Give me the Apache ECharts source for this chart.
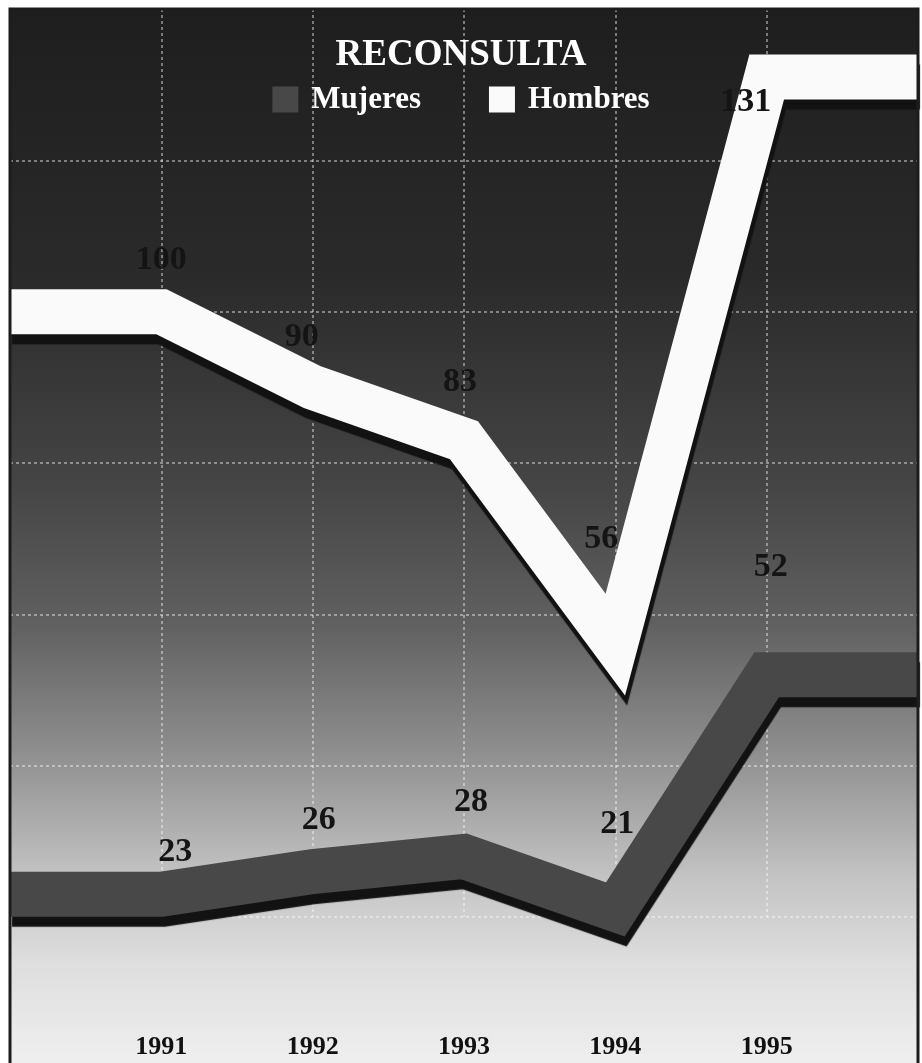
<!DOCTYPE html>
<html>
<head>
<meta charset="utf-8">
<title>Reconsulta</title>
<script src="https://cdn.jsdelivr.net/npm/echarts@6/dist/echarts.min.js"></script>
<style>
  html, body { margin: 0; padding: 0; background: #fff; }
  #chart { width: 922px; height: 1063px; }
</style>
</head>
<body>
<div id="chart"></div>
<script>
// data
const years = [1991, 1992, 1993, 1994, 1995]
const mujeres = [23, 26, 28, 21, 52]
const hombres = [100, 90, 83, 56, 131]

// the ribbons run flat out to the panel edges (one year either side)
const xMin = years[0] - 1
const xMax = years[years.length - 1] + 1

function ribbon (values) {
  return [[xMin, values[0]]]
    .concat(years.map((y, i) => [y, values[i]]))
    .concat([[xMax, values[values.length - 1]]])
}

// label nudges per point (style only)
const hombresLabelOffset = [[0, -8], [-11, -7], [-4, -15], [-14, -62], [-21, 68]]
const mujeresLabelOffset = [[14, 1], [6, -8], [7, -11], [2, -42], [4, -65]]

const serif = '"Liberation Serif", "DejaVu Serif", serif'

function labelledData (values, offsets) {
  return ribbon(values).map((p, i) => {
    const k = i - 1
    if (k < 0 || k >= values.length) {
      return { value: p, label: { show: false } }
    }
    return { value: p, label: { offset: offsets[k] } }
  })
}

function ribbonSeries (name, color, values, offsets, z) {
  return {
    name: name,
    type: 'line',
    clip: false,
    symbol: 'circle',
    symbolSize: 0.1,
    showSymbol: true,
    itemStyle: { color: color },
    lineStyle: {
      color: color,
      width: 45,
      join: 'miter',
      miterLimit: 10,
      cap: 'butt',
      shadowColor: '#121212',
      shadowBlur: 1,
      shadowOffsetX: 2,
      shadowOffsetY: 10
    },
    label: {
      show: true,
      position: 'top',
      distance: 26,
      color: '#141414',
      fontFamily: serif,
      fontWeight: 'bold',
      fontSize: 34,
      formatter: p => String(p.value[1])
    },
    data: labelledData(values, offsets),
    z: z
  }
}

const chart = echarts.init(document.getElementById('chart'))

chart.setOption({
  backgroundColor: '#fff',
  animation: false,
  graphic: [
    {
      type: 'rect',
      z: -10,
      silent: true,
      shape: { x: 10, y: 9, width: 908, height: 1060 },
      style: {
        fill: {
          type: 'linear',
          x: 0, y: 0, x2: 0, y2: 1,
          colorStops: [
            { offset: 0, color: '#1e1e1e' },
            { offset: 0.25, color: '#2a2a2a' },
            { offset: 0.45, color: '#454545' },
            { offset: 0.58, color: '#606060' },
            { offset: 0.7, color: '#8e8e8e' },
            { offset: 0.82, color: '#c4c4c4' },
            { offset: 0.9, color: '#dedede' },
            { offset: 1, color: '#f0f0f0' }
          ]
        }
      }
    },
    {
      // panel frame drawn over the edge grid lines
      type: 'rect',
      z: 100,
      silent: true,
      shape: { x: 10, y: 9, width: 908, height: 1060 },
      style: { fill: null, stroke: '#1c1c1c', lineWidth: 3 }
    }
  ],
  title: {
    text: 'RECONSULTA',
    left: 'center',
    top: 32,
    textStyle: {
      color: '#fff',
      fontFamily: serif,
      fontWeight: 'bold',
      fontSize: 37
    }
  },
  legend: {
    top: 79,
    left: 'center',
    itemGap: 68,
    itemWidth: 26,
    itemHeight: 26,
    icon: 'rect',
    data: ['Mujeres', 'Hombres'],
    textStyle: {
      color: '#fff',
      fontFamily: serif,
      fontWeight: 'bold',
      fontSize: 31,
      padding: [0, 0, 0, 8]
    }
  },
  grid: {
    left: 10,
    right: 4,
    top: 9,
    bottom: 146
  },
  xAxis: {
    type: 'value',
    min: xMin,
    max: xMax,
    interval: 1,
    axisLine: { show: false },
    axisTick: { show: false },
    axisLabel: {
      margin: 117,
      color: '#111',
      fontFamily: serif,
      fontWeight: 'bold',
      fontSize: 26,
      formatter: v => years.indexOf(v) >= 0 ? String(v) : ''
    },
    splitLine: {
      show: true,
      lineStyle: { color: 'rgba(255,255,255,0.55)', type: [3, 3], width: 1.5 }
    }
  },
  yAxis: {
    type: 'value',
    min: 20,
    max: 140,
    interval: 20,
    axisLine: { show: false },
    axisTick: { show: false },
    axisLabel: { show: false },
    splitLine: {
      show: true,
      lineStyle: { color: 'rgba(255,255,255,0.55)', type: [3, 3], width: 1.5 }
    }
  },
  series: [
    ribbonSeries('Mujeres', '#484848', mujeres, mujeresLabelOffset, 3),
    ribbonSeries('Hombres', '#fafafa', hombres, hombresLabelOffset, 4)
  ]
})
</script>
</body>
</html>
